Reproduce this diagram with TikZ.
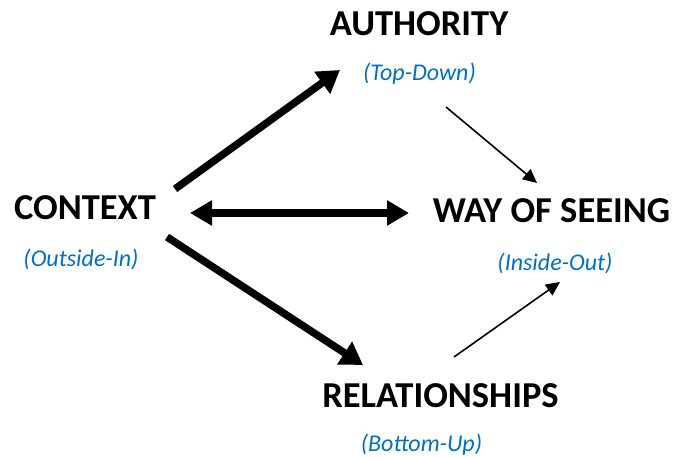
\documentclass[tikz,border=0pt]{standalone}
\usepackage{fontspec}
\setmainfont{Carlito}
\usetikzlibrary{arrows.meta}
\definecolor{subblue}{RGB}{0,112,192}
\begin{document}
\begin{tikzpicture}[x=1pt,y=-1pt,
  title/.style={font=\fontsize{36.5}{36.5}\selectfont\bfseries, inner sep=0pt, anchor=base},
  sub/.style={font=\fontsize{24}{24}\selectfont\itshape, text=subblue, inner sep=0pt, anchor=base},
  bigarrow/.style={line width=7.5pt, -{Triangle[length=22pt,width=26pt]}},
  bothway/.style={line width=7.5pt, {Triangle[length=22pt,width=24pt]}-{Triangle[length=22pt,width=24pt]}},
  thinarrow/.style={line width=1.6pt, -{Triangle[length=14pt,width=13pt]}}]
\useasboundingbox (0,0) rectangle (689,457);
% labels
\node[title] (auth) at (419,36) {AUTHORITY};
\node[sub] (authsub) at (419.5,81) {(Top-Down)};
\node[title] (ctx) at (85,220) {CONTEXT};
\node[sub] (ctxsub) at (81,267) {(Outside-In)};
\node[title] (way) at (551.5,223) {WAY OF SEEING};
\node[sub] (waysub) at (555,271) {(Inside-Out)};
\node[title] (rel) at (440.5,407) {RELATIONSHIPS};
\node[sub] (relsub) at (421.5,452) {(Bottom-Up)};
% connector end points
\coordinate (ctxup) at (175,189);
\coordinate (authin) at (340,70);
\coordinate (ctxright) at (190,213);
\coordinate (wayleft) at (409,213);
\coordinate (ctxdown) at (167,237);
\coordinate (relin) at (363,365);
\coordinate (authout) at (446,107);
\coordinate (waytop) at (537,183);
\coordinate (relout) at (454,357);
\coordinate (waybottom) at (560,282);
% connectors
\draw[bigarrow] (ctxup) -- (authin);
\draw[bothway] (ctxright) -- (wayleft);
\draw[bigarrow] (ctxdown) -- (relin);
\draw[thinarrow] (authout) -- (waytop);
\draw[thinarrow] (relout) -- (waybottom);
\end{tikzpicture}
\end{document}
